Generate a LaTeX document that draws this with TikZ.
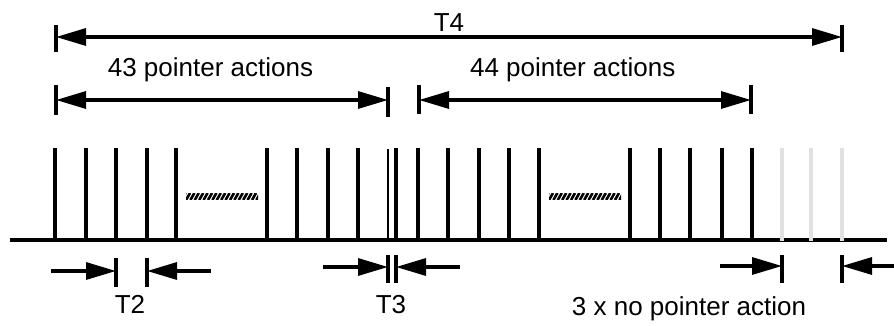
\documentclass[tikz,border=0pt]{standalone}
\usepackage{fontspec}
\setmainfont{Liberation Sans}
\usetikzlibrary{arrows.meta}
\begin{document}
\begin{tikzpicture}[x=0.5pt,y=-0.5pt,
  base/.style={line width=1.6pt},
  pulse/.style={line width=1.7pt},
  ghost/.style={line width=1.7pt,draw={rgb,255:red,224;green,224;blue,224}},
  tick/.style={line width=1.6pt},
  dim/.style={line width=1.6pt,-{Triangle[length=15pt,width=8.5pt]}},
  dimboth/.style={line width=1.6pt,{Triangle[length=15pt,width=8.5pt]}-{Triangle[length=15pt,width=8.5pt]}},
  lbl/.style={font=\fontsize{13pt}{15pt}\selectfont,inner sep=0pt,anchor=base}]
\useasboundingbox (0,0) rectangle (894,326);

% baseline
\coordinate (b0) at (10,240);
\coordinate (b1) at (887,240);
\draw[base] (b0) -- (b1);

% pulses
\foreach \x in {55,86,116,147,176,267,297,328,358,396,418,448,479,509,539,630,660,690,722,752}
  \draw[pulse] (\x,148) -- (\x,241);
\draw[line width=1.2pt] (388,149) -- (388,242);
\foreach \x in {782,811,842}
  \draw[ghost] (\x,148) -- (\x,241);

% hatched gaps
\foreach \s/\e in {186/258,549/621}{
  \begin{scope}
    \clip (\s,193.5) rectangle (\e,199.5);
    \foreach \i in {-1,...,17}
      \draw[line width=1.3pt] ({\s+\i*4.4},200) -- ({\s+\i*4.4+4},193);
  \end{scope}
}

% T4
\coordinate (t4l) at (56,37);
\coordinate (t4r) at (842,37);
\draw[tick] (56,25) -- (56,52);
\draw[tick] (842,25) -- (842,52);
\draw[dimboth] (t4l) -- (t4r);
\node[lbl] (lt4) at (449,32) {T4};

% 43 pointer actions
\coordinate (a43l) at (56,100);
\coordinate (a43r) at (388,100);
\draw[tick] (56,85) -- (56,115);
\draw[tick] (388,87) -- (388,117);
\draw[dimboth] (a43l) -- (a43r);
\node[lbl] (l43) at (210.5,77) {43 pointer actions};

% 44 pointer actions
\coordinate (a44l) at (419,100);
\coordinate (a44r) at (751,100);
\draw[tick] (419,85) -- (419,114);
\draw[tick] (751,85) -- (751,114);
\draw[dimboth] (a44l) -- (a44r);
\node[lbl] (l44) at (572.7,77) {44 pointer actions};

% T2
\coordinate (t2a) at (51,271);
\coordinate (t2b) at (116,271);
\coordinate (t2c) at (211,271);
\coordinate (t2d) at (147,271);
\draw[tick] (116,258) -- (116,287);
\draw[tick] (147,258) -- (147,287);
\draw[dim] (t2a) -- (t2b);
\draw[dim] (t2c) -- (t2d);
\node[lbl] (lt2) at (130,313) {T2};

% T3
\coordinate (t3a) at (323,267);
\coordinate (t3b) at (388,267);
\coordinate (t3c) at (460,267);
\coordinate (t3d) at (396,267);
\draw[tick] (388,255) -- (388,283);
\draw[tick] (396,255) -- (396,283);
\draw[dim] (t3a) -- (t3b);
\draw[dim] (t3c) -- (t3d);
\node[lbl] (lt3) at (391,313) {T3};

% no pointer action
\coordinate (npa) at (720,266);
\coordinate (npb) at (782,266);
\coordinate (npc) at (894,266);
\coordinate (npd) at (842,266);
\draw[tick] (782,255) -- (782,283);
\draw[tick] (842,255) -- (842,283);
\draw[dim] (npa) -- (npb);
\draw[dim] (npc) -- (npd);
\node[lbl] (lnp) at (689,315) {3 x no pointer action};
\end{tikzpicture}
\end{document}
